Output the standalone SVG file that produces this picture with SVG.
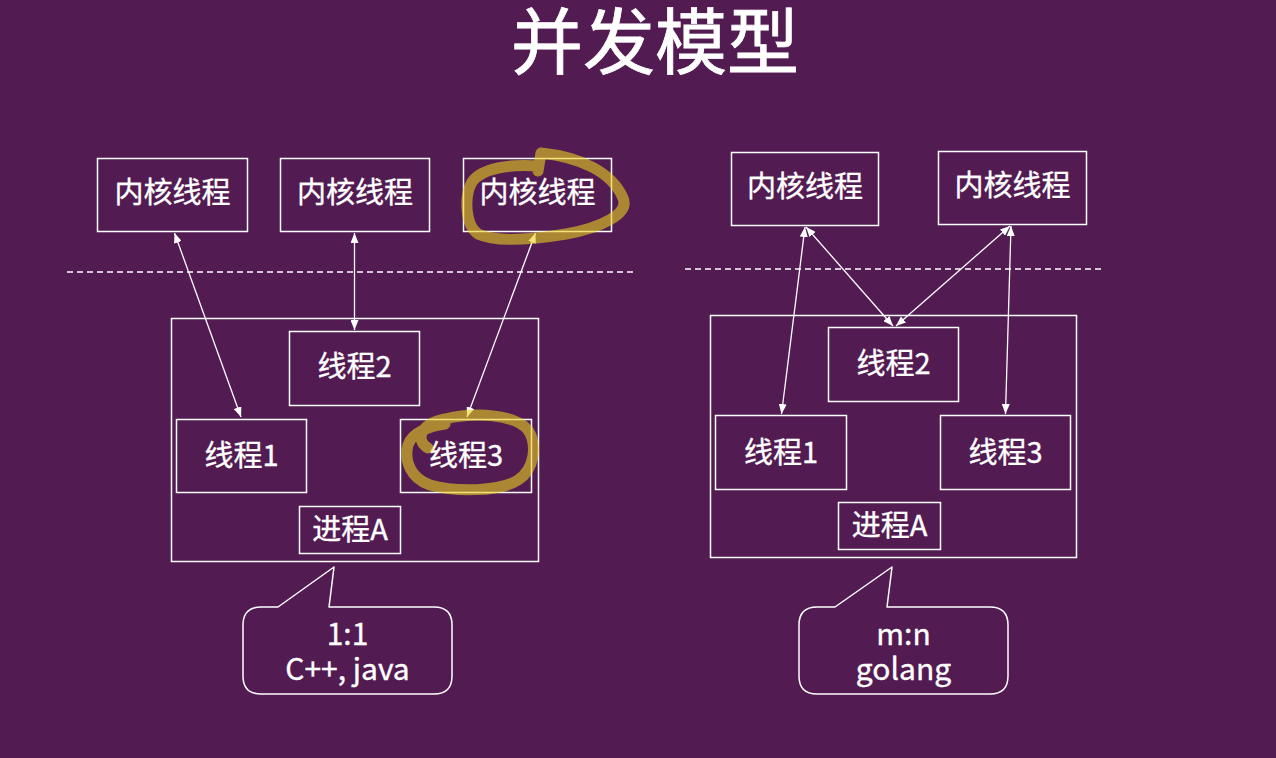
<svg xmlns="http://www.w3.org/2000/svg" width="1276" height="758" viewBox="0 0 1276 758">
<defs>
<style>
.box{fill:none;stroke:#ffffff;stroke-width:1.5}
.lbl{font-family:"Noto Sans CJK SC","Noto Sans",sans-serif;fill:#ffffff;font-size:29px;text-anchor:middle;stroke:#ffffff;stroke-width:0.35}
.ctext{font-family:"Noto Sans CJK SC","Noto Sans",sans-serif;fill:#ffffff;font-size:30px;text-anchor:middle;stroke:#ffffff;stroke-width:0.35}
.title{font-family:"Noto Sans CJK SC",sans-serif;fill:#ffffff;font-size:72px;text-anchor:middle;stroke:#ffffff;stroke-width:0.8}
.link{stroke:#ffffff;stroke-width:1.3;fill:none;marker-start:url(#ah);marker-end:url(#ah)}
.dash{stroke:#ffffff;stroke-width:1.3;stroke-dasharray:6 4;fill:none}
.hl{fill:none;stroke:#e8d020;stroke-opacity:0.6;stroke-width:11;stroke-linecap:round;stroke-linejoin:round}
.callout{fill:none;stroke:#ffffff;stroke-width:1.5;stroke-linejoin:round}
</style>
<marker id="ah" viewBox="0 0 10 8" refX="10" refY="4" markerWidth="10" markerHeight="8" markerUnits="userSpaceOnUse" orient="auto-start-reverse">
<path d="M0,0 L10,4 L0,8 Z" fill="#ffffff"/>
</marker>
</defs>
<rect x="0" y="0" width="1276" height="758" fill="#521b52"/>
<text class="title" x="655" y="68">并发模型</text>

<!-- Left diagram -->
<line class="dash" x1="67" y1="272" x2="634" y2="272"/>
<g id="L-proc"><rect class="box" x="171.5" y="318.5" width="367" height="243"/></g>
<g id="L-k1"><rect class="box" x="97.5" y="158.5" width="150" height="73"/><text class="lbl" x="172.5" y="203">内核线程</text></g>
<g id="L-k2"><rect class="box" x="280.5" y="158.5" width="149" height="73"/><text class="lbl" x="355" y="203">内核线程</text></g>
<g id="L-k3"><rect class="box" x="463.5" y="158.5" width="148" height="73"/><text class="lbl" x="537.5" y="203">内核线程</text></g>
<g id="L-t2"><rect class="box" x="289.5" y="331.5" width="130" height="74"/><text class="lbl" x="354.5" y="377">线程2</text></g>
<g id="L-t1"><rect class="box" x="176.5" y="419.5" width="130" height="73"/><text class="lbl" x="241.5" y="466">线程1</text></g>
<g id="L-t3"><rect class="box" x="400.5" y="419.5" width="131" height="73"/><text class="lbl" x="466" y="466">线程3</text></g>
<g id="L-pa"><rect class="box" x="299.5" y="506.5" width="101" height="47"/><text class="lbl" x="350" y="539.5">进程A</text></g>

<!-- Right diagram -->
<line class="dash" x1="685" y1="269" x2="1102" y2="269"/>
<g id="R-proc"><rect class="box" x="710.5" y="315.5" width="366" height="242"/></g>
<g id="R-k1"><rect class="box" x="731.5" y="152.5" width="147" height="73"/><text class="lbl" x="805" y="197">内核线程</text></g>
<g id="R-k2"><rect class="box" x="938.5" y="151.5" width="148" height="73"/><text class="lbl" x="1012.5" y="196">内核线程</text></g>
<g id="R-t2"><rect class="box" x="828.5" y="327.5" width="130" height="74"/><text class="lbl" x="893.5" y="374">线程2</text></g>
<g id="R-t1"><rect class="box" x="715.5" y="415.5" width="131" height="74"/><text class="lbl" x="781" y="463">线程1</text></g>
<g id="R-t3"><rect class="box" x="940.5" y="415.5" width="130" height="74"/><text class="lbl" x="1005.5" y="463">线程3</text></g>
<g id="R-pa"><rect class="box" x="838.5" y="502.5" width="102" height="47"/><text class="lbl" x="889.5" y="536">进程A</text></g>

<g id="connectors">
<line class="link" x1="174.5" y1="233" x2="241" y2="417"/>
<line class="link" x1="354.5" y1="233" x2="354.5" y2="330"/>
<line class="link" x1="535.5" y1="233" x2="467" y2="417"/>
<line class="link" x1="805" y1="227" x2="781.5" y2="414"/>
<line class="link" x1="806" y1="227" x2="893" y2="326"/>
<line class="link" x1="1010" y1="226" x2="896" y2="326"/>
<line class="link" x1="1011" y1="226" x2="1005.5" y2="414"/>
</g>

<g id="callout-left">
<path class="callout" d="M261,607 L278,607 L334,567 L329,607 L434,607 Q452,607 452,625 L452,676 Q452,694 434,694 L261,694 Q243,694 243,676 L243,625 Q243,607 261,607 Z"/>
<text class="ctext" x="347.5" y="645">1:1</text>
<text class="ctext" x="347.5" y="680">C++, java</text>
</g>
<g id="callout-right">
<path class="callout" d="M817,607 L835,607 L892,567 L887,607 L990,607 Q1008,607 1008,625 L1008,676 Q1008,694 990,694 L817,694 Q799,694 799,676 L799,625 Q799,607 817,607 Z"/>
<text class="ctext" x="903.5" y="645">m:n</text>
<text class="ctext" x="903.5" y="680">golang</text>
</g>

<g id="highlights">
<path class="hl" d="M538,171 L541,153 C580,157 612,172 623,198 C630,214 600,228 566,234 C530,240 495,242 478,234 C465,225 464,196 472,182 C482,168 510,164 537,166"/>
<path class="hl" d="M428,448 C415,440 420,424 445,419 C475,412 515,414 528,430 C538,445 534,470 518,480 C500,492 455,492 430,485 C410,478 404,460 408,445 C412,432 430,426 445,424"/>
</g>
</svg>
